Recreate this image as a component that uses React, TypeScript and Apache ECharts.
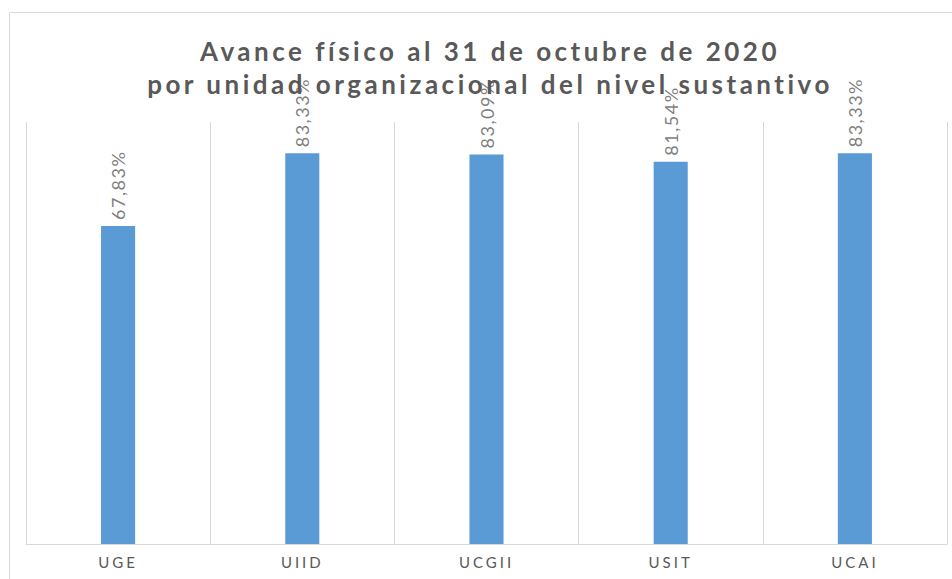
import React, { useEffect, useRef } from "react";
import * as echarts from "echarts";

const categories = ["UGE", "UIID", "UCGII", "USIT", "UCAI"];
const values = [67.83, 83.33, 83.09, 81.54, 83.33];
const titleLines = [
  "Avance físico al 31 de octubre de 2020",
  "por unidad organizacional del nivel sustantivo",
];

export default function App() {
  const ref = useRef<HTMLDivElement>(null);
  useEffect(() => {
    if (!ref.current) return;
    const chart = echarts.init(ref.current, undefined, { renderer: "svg" });
    chart.setOption({
      animation: false,
      backgroundColor: "#ffffff",
      title: {
        text: titleLines.join("\n"),
        left: 485,
        top: 29,
        textAlign: "center",
        textStyle: {
          fontFamily: "Lato",
          fontWeight: "bold",
          fontSize: 26,
          lineHeight: 33,
          color: "#595959",
        },
      },
      graphic: [
        {
          type: "rect",
          left: 7,
          top: 10,
          shape: { width: 1000, height: 700 },
          style: { fill: "none", stroke: "#d9d9d9", lineWidth: 1 },
          z: -10,
        },
      ],
      grid: { left: 26, right: 5, top: 122, bottom: 35 },
      xAxis: {
        type: "category",
        data: categories,
        axisLine: { show: true, lineStyle: { color: "#d9d9d9", width: 1 } },
        axisTick: { show: false },
        splitLine: { show: true, lineStyle: { color: "#d9d9d9", width: 1 } },
        axisLabel: {
          color: "#595959",
          fontFamily: "Lato",
          fontSize: 15,
          margin: 10,
        },
      },
      yAxis: {
        type: "value",
        min: 0,
        max: 90,
        show: false,
        splitLine: { show: false },
      },
      series: [
        {
          type: "bar",
          data: values,
          barWidth: "18.5%",
          itemStyle: { color: "#5b9bd5" },
          label: {
            show: true,
            position: "top",
            rotate: 90,
            align: "left",
            verticalAlign: "middle",
            distance: 6,
            color: "#7f7f7f",
            fontFamily: "Lato",
            fontSize: 18,
            formatter: (p: any) => p.value.toFixed(2).replace(".", ",") + "%",
          },
        },
      ],
    });
    return () => chart.dispose();
  }, []);
  return (
    <>
      <style>{`
        .chartbox svg text { letter-spacing: 2px; }
        .chartbox svg text[style*="26px"] { letter-spacing: 3.5px; }
        .chartbox svg text[style*="15px"] { letter-spacing: 3px; }
        .chartbox svg text[style*="18px"] { letter-spacing: 1.5px; }
      `}</style>
      <div
        ref={ref}
        className="chartbox"
        style={{ position: "fixed", left: 0, top: 0, width: 952, height: 579 }}
      />
    </>
  );
}
